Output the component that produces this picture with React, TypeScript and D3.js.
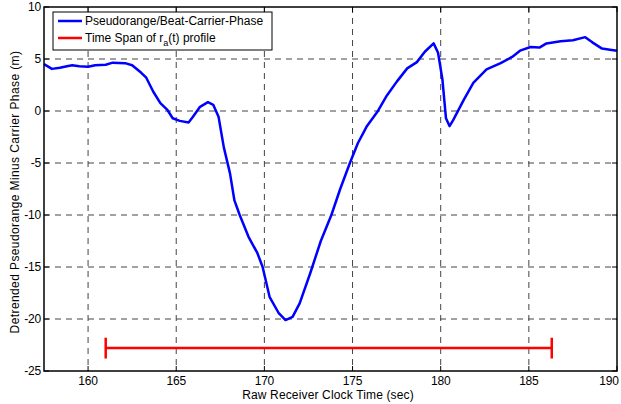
import React from 'react'
import * as d3 from 'd3'

// blue trace
const times = [
  157.5, 157.95, 158.4, 158.8, 159.1, 159.5, 160.0, 160.4, 161.0, 161.4, 162.1, 162.5,
  163.0, 163.3, 163.7, 164.1, 164.5, 164.8, 165.2, 165.7, 165.95, 166.35, 166.8, 167.1,
  167.4, 167.7, 168.05, 168.3, 168.6, 169.1, 169.6, 169.9, 170.3, 170.8, 171.2, 171.6,
  172.0, 172.6, 173.2, 173.8, 174.3, 174.85, 175.3, 175.8, 176.4, 176.95, 177.5, 178.1,
  178.65, 179.1, 179.6, 179.85, 180.1, 180.3, 180.5, 180.7, 181.3, 181.85, 182.6, 183.4,
  184.05, 184.5, 185.1, 185.6, 186.0, 186.8, 187.5, 188.2, 188.6, 189.15, 189.6, 190.0,
]
const values = [
  4.5, 4.05, 4.15, 4.3, 4.4, 4.3, 4.25, 4.4, 4.45, 4.65, 4.6, 4.4,
  3.7, 3.2, 1.85, 0.75, 0.1, -0.7, -0.95, -1.1, -0.55, 0.4, 0.85, 0.6,
  -0.55, -3.5, -6.0, -8.6, -10.0, -12.1, -13.65, -15.0, -17.9, -19.4, -20.1, -19.8,
  -18.5, -15.6, -12.5, -10.0, -7.5, -5.0, -3.1, -1.5, -0.1, 1.5, 2.8, 4.1,
  4.7, 5.7, 6.5, 5.6, 3.0, -0.7, -1.45, -0.9, 1.05, 2.7, 4.0, 4.6,
  5.2, 5.8, 6.15, 6.1, 6.5, 6.7, 6.8, 7.1, 6.6, 6.0, 5.9, 5.8,
]

// red span of the r_a(t) profile
const spanStart = 161
const spanEnd = 186.3
const spanLevel = -22.8

const xTicks = [160, 165, 170, 175, 180, 185, 190]
const yTicks = [10, 5, 0, -5, -10, -15, -20, -25]

const W = 621
const H = 404
const left = 44, right = 617, top = 7, bottom = 371
const font = '"Liberation Sans", Arial, sans-serif'

export default function App() {
  const x = d3.scaleLinear().domain([157.5, 190]).range([left, right])
  const y = d3.scaleLinear().domain([-25, 10]).range([bottom, top])

  const pts: [number, number][] = times.map((t, i) => [t, values[i]])
  const path = d3.line<[number, number]>()
    .x(d => x(d[0]))
    .y(d => y(d[1]))(pts) || ''

  const capH = 1
  return (
    <svg width={W} height={H} style={{ position: 'absolute', left: 0, top: 0, background: '#fff' }}
      fontFamily={font}>
      <rect x={0} y={0} width={W} height={H} fill="#fff" />
      {/* grid */}
      {xTicks.filter(t => t < 190).map(t => (
        <line key={'gx' + t} x1={x(t)} x2={x(t)} y1={top} y2={bottom}
          stroke="#444" strokeWidth={1} strokeDasharray="6,5" />
      ))}
      {yTicks.filter(t => t < 10 && t > -25).map(t => (
        <line key={'gy' + t} x1={left} x2={right} y1={y(t)} y2={y(t)}
          stroke="#444" strokeWidth={1} strokeDasharray="6,5" />
      ))}
      {/* ticks */}
      {xTicks.map(t => (
        <g key={'tx' + t}>
          <line x1={x(t)} x2={x(t)} y1={bottom} y2={bottom - 5} stroke="#000" />
          <line x1={x(t)} x2={x(t)} y1={top} y2={top + 5} stroke="#000" />
          <text x={Math.min(x(t), W - 12)} y={385} fontSize={12} textAnchor="middle" letterSpacing={-0.2}>{t}</text>
        </g>
      ))}
      {yTicks.map(t => (
        <g key={'ty' + t}>
          <line x1={left} x2={left + 5} y1={y(t)} y2={y(t)} stroke="#000" />
          <line x1={right} x2={right - 5} y1={y(t)} y2={y(t)} stroke="#000" />
          <text x={41} y={y(t) + 4} fontSize={12} textAnchor="end" letterSpacing={-0.2}>{t}</text>
        </g>
      ))}
      {/* data */}
      <path d={path} fill="none" stroke="#0000ff" strokeWidth={2.5} strokeLinejoin="round" />
      <g stroke="#ff0000" strokeWidth={2.5}>
        <line x1={x(spanStart)} x2={x(spanEnd)} y1={y(spanLevel)} y2={y(spanLevel)} />
        <line x1={x(spanStart)} x2={x(spanStart)} y1={y(spanLevel + capH)} y2={y(spanLevel - capH)} />
        <line x1={x(spanEnd)} x2={x(spanEnd)} y1={y(spanLevel + capH)} y2={y(spanLevel - capH)} />
      </g>
      {/* frame */}
      <rect x={left} y={top} width={right - left} height={bottom - top} fill="none" stroke="#000" strokeWidth={1.5} />
      {/* legend */}
      <rect x={53} y={12} width={219} height={38} fill="#fff" stroke="#000" strokeWidth={1} />
      <line x1={58} x2={82} y1={21} y2={21} stroke="#0000ff" strokeWidth={2.5} />
      <line x1={58} x2={82} y1={38} y2={38} stroke="#ff0000" strokeWidth={2.5} />
      <text x={85} y={25} fontSize={12} letterSpacing={0}>Pseudorange/Beat-Carrier-Phase</text>
      <text x={85} y={42} fontSize={12} letterSpacing={0}>
        Time Span of r<tspan fontSize={9} dy={4}>a</tspan><tspan dy={-4}>(t) profile</tspan>
      </text>
      {/* axis labels */}
      <text x={328} y={399} fontSize={12} textAnchor="middle" letterSpacing={0.15}>Raw Receiver Clock Time (sec)</text>
      <text transform={`translate(19,192) rotate(-90)`} fontSize={12}
        textAnchor="middle" letterSpacing={0.4}>Detrended Pseudorange Minus Carrier Phase (m)</text>
    </svg>
  )
}
